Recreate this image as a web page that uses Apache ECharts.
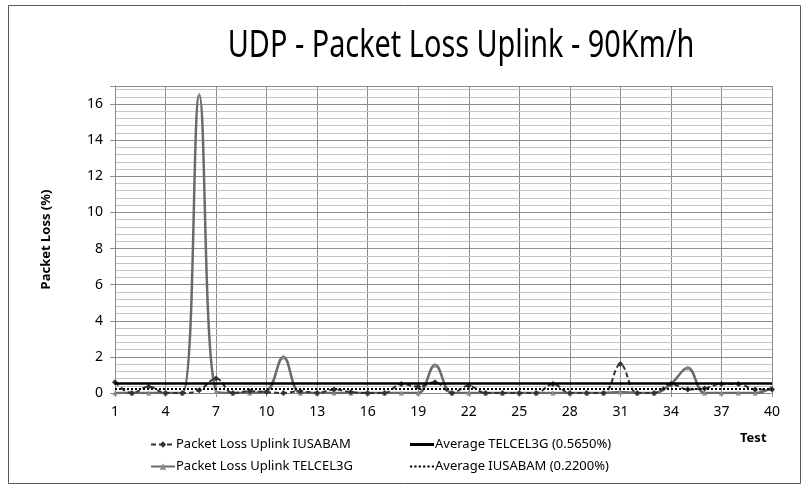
<!DOCTYPE html>
<html>
<head>
<meta charset="utf-8">
<script src="https://cdn.jsdelivr.net/npm/echarts@6/dist/echarts.min.js"></script>
<style>
  html, body { margin: 0; padding: 0; background: #fff; }
  #chart { width: 803px; height: 487px; }
</style>
</head>
<body>
<div id="chart"></div>
<script>
// test numbers 1..40
const tests = ["1","2","3","4","5","6","7","8","9","10","11","12","13","14","15","16","17","18","19","20",
  "21","22","23","24","25","26","27","28","29","30","31","32","33","34","35","36","37","38","39","40"];

const lossIusabam = [0.6, 0, 0.35, 0, 0, 0.15, 0.8, 0, 0.1, 0.05,
  0, 0.1, 0, 0.2, 0.05, 0, 0, 0.5, 0.35, 0.6,
  0, 0.4, 0, 0, 0, 0, 0.5, 0, 0, 0,
  1.6, 0, 0, 0.5, 0.2, 0.25, 0.5, 0.5, 0.2, 0.2];

const lossTelcel = [0, 0, 0, 0, 0, 16.5, 0.1, 0, 0, 0.1,
  2.0, 0, 0, 0, 0, 0, 0, 0, 0, 1.55,
  0, 0, 0, 0, 0, 0, 0, 0, 0, 0,
  0.05, 0, 0, 0.5, 1.4, 0, 0, 0, 0, 0.3];

const avgTelcel = 0.565;
const avgIusabam = 0.22;

const names = [
  "Packet Loss Uplink IUSABAM",
  "Packet Loss Uplink TELCEL3G",
  "Average TELCEL3G (0.5650%)",
  "Average IUSABAM (0.2200%)"
];

const font = "Noto Sans";
// legend icons for the two average lines (plain line / dotted line)
const solidIcon = "path://M0,0H24V3H0Z";
const dotIcon = "path://M0,0h2v2h-2z M4,0h2v2h-2z M8,0h2v2h-2z M12,0h2v2h-2z M16,0h2v2h-2z M20,0h2v2h-2z";

let chart = echarts.init(document.getElementById("chart"));

let option = {
  animation: false,
  textStyle: { fontFamily: font },
  graphic: [
    {
      type: "rect",
      shape: { x: 8.5, y: 5.5, width: 792, height: 478 },
      style: { fill: "none", stroke: "#595959", lineWidth: 1 },
      silent: true
    },
    {
      // title, narrowed to look like the condensed office font
      type: "text",
      x: 461,
      y: 46,
      scaleX: 0.74,
      style: {
        text: "UDP - Packet Loss Uplink - 90Km/h",
        font: "normal 39px 'Noto Sans'",
        fill: "#000",
        textAlign: "center",
        textVerticalAlign: "middle"
      }
    },
    {
      type: "text",
      left: 740,
      top: 432,
      style: { text: "Test", font: "bold 13px 'Noto Sans'", fill: "#000" }
    }
  ],
  legend: [
    {
      orient: "vertical",
      left: 145,
      top: 433,
      itemGap: 9,
      itemWidth: 24,
      itemHeight: 8,
      data: [names[0], names[1]],
      textStyle: { fontFamily: font, fontSize: 13, color: "#000", padding: [0, 0, 0, -4] }
    },
    {
      orient: "vertical",
      left: 405,
      top: 433,
      itemGap: 9,
      itemWidth: 24,
      itemHeight: 3,
      data: [
        { name: names[2], icon: solidIcon },
        { name: names[3], icon: dotIcon }
      ],
      textStyle: { fontFamily: font, fontSize: 13, color: "#000", padding: [0, 0, 0, -4] }
    }
  ],
  grid: { left: 115, right: 31, top: 86, bottom: 94 },
  xAxis: {
    type: "category",
    data: tests,
    boundaryGap: false,
    axisLine: { lineStyle: { color: "#8c8c8c", width: 1 } },
    axisTick: { show: true, interval: 2, length: 4, lineStyle: { color: "#8c8c8c" } },
    axisLabel: { interval: 2, margin: 12, fontSize: 14, color: "#000", fontFamily: font },
    splitLine: { show: true, interval: 2, lineStyle: { color: "#8c8c8c", width: 1 } }
  },
  yAxis: [
    {
      type: "value",
      min: 0,
      max: 17,
      interval: 2,
      name: "Packet Loss (%)",
      nameLocation: "middle",
      nameGap: 62,
      nameTextStyle: { fontFamily: font, fontSize: 13, fontWeight: "bold", color: "#000" },
      axisLine: { show: true, lineStyle: { color: "#8c8c8c" } },
      axisTick: { show: true, length: 5, lineStyle: { color: "#8c8c8c" } },
      axisLabel: {
        fontSize: 14, color: "#000", margin: 12, fontFamily: font,
        formatter: (v) => (v % 2 === 0 ? String(v) : "")
      },
      splitLine: { show: true, lineStyle: { color: "#8c8c8c", width: 1 } },
      z: 2
    },
    {
      type: "value",
      min: 0,
      max: 17,
      interval: 0.4,
      axisLine: { show: false },
      axisTick: { show: false },
      axisLabel: { show: false },
      splitLine: { show: true, lineStyle: { color: "#c4c4c4", width: 1 } },
      z: 1
    }
  ],
  series: [
    {
      name: names[0],
      type: "line",
      data: lossIusabam,
      smooth: 0.4,
      symbol: "diamond",
      symbolSize: 6,
      showAllSymbol: true,
      lineStyle: { color: "#333333", width: 2, type: [5, 3] },
      itemStyle: { color: "#333333" },
      z: 4
    },
    {
      name: names[1],
      type: "line",
      data: lossTelcel,
      smooth: 0.4,
      symbol: "triangle",
      symbolSize: 5,
      showAllSymbol: true,
      lineStyle: { color: "#6b6b6b", width: 2.5 },
      itemStyle: { color: "#8a8a8a" },
      z: 3
    },
    {
      name: names[2],
      type: "line",
      data: [],
      symbol: "none",
      itemStyle: { color: "#000" },
      markLine: {
        silent: true,
        symbol: "none",
        label: { show: false },
        lineStyle: { color: "#000", width: 2.5, type: "solid" },
        data: [{ yAxis: avgTelcel }]
      },
      z: 5
    },
    {
      name: names[3],
      type: "line",
      data: [],
      symbol: "none",
      itemStyle: { color: "#000" },
      markLine: {
        silent: true,
        symbol: "none",
        label: { show: false },
        lineStyle: { color: "#000", width: 2, type: [2, 2] },
        data: [{ yAxis: avgIusabam }]
      },
      z: 5
    }
  ]
};

chart.setOption(option);
</script>
</body>
</html>
